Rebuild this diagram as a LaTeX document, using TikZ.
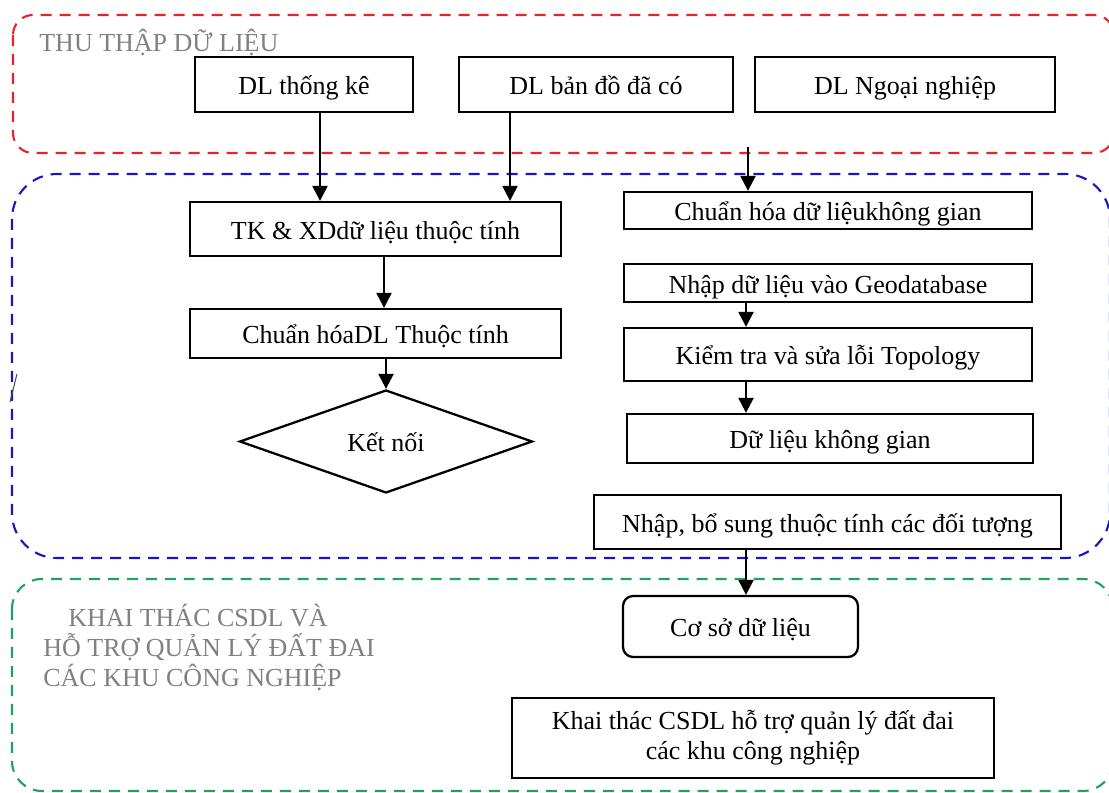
\documentclass[tikz,border=0pt]{standalone}
\usepackage{fontspec}
\setmainfont{Liberation Serif}
\usepackage{tikz}
\usetikzlibrary{arrows.meta}
\usetikzlibrary{shapes.geometric}

\definecolor{thured}{RGB}{232,34,44}
\definecolor{xlyblue}{RGB}{22,22,196}
\definecolor{ktgreen}{RGB}{30,162,98}
\definecolor{labelgray}{RGB}{128,128,128}

\begin{document}
\begin{tikzpicture}[x=0.02cm,y=-0.02cm]
		\useasboundingbox (0,0) rectangle (1109,793);

		% khung ba giai doan
		\begin{scope}[line width=1.2pt,dash pattern=on 2.2mm off 1.6mm]
			\draw[thured,rounded corners=0.4cm] (13,15) rectangle (1114,153);
			\draw[xlyblue,rounded corners=0.9cm] (12,174) rectangle (1110,558);
			\draw[ktgreen,rounded corners=0.6cm] (12,579) rectangle (1113,791);
		\end{scope}
		\draw[black!70,line width=0.6pt] (17,374) -- (10,402);

		\begin{scope}[every node/.style={text=labelgray,inner sep=0pt,font=\fontsize{14.8pt}{17pt}\selectfont}]
			\node[anchor=base west] (lb1) at (39,52) {THU THẬP DỮ LIỆU};
			\node[anchor=base west,align=left] (lb3) at (43,686) {\hspace*{0.5cm}KHAI THÁC CSDL VÀ\\HỖ TRỢ QUẢN LÝ ĐẤT ĐAI\\CÁC KHU CÔNG NGHIỆP};
		\end{scope}

		\begin{scope}[every node/.style={rectangle,draw,line width=1.3pt,inner sep=0pt,
		              text height=1.15em,text depth=0pt,font=\fontsize{14.8pt}{17pt}\selectfont}]
			\node[minimum width=4.36cm,minimum height=1.1cm] (dltk) at (304,84.5) {DL thống kê};
			\node[minimum width=5.48cm,minimum height=1.1cm] (dlbd) at (596,84.5) {DL bản đồ đã có};
			\node[minimum width=6cm,minimum height=1.1cm] (dlng) at (905,84.5) {DL Ngoại nghiệp};
			\node[minimum width=7.42cm,minimum height=1.08cm] (tk) at (375.5,229) {TK \& XDdữ liệu thuộc tính};
			\node[minimum width=7.42cm,minimum height=0.98cm] (chdl) at (375.5,333.5) {Chuẩn hóaDL Thuộc tính};
			\node[diamond,aspect=2.84,minimum width=5.86cm,minimum height=2.06cm] (ketnoi) at (386,441.5) {Kết nối};
			\node[minimum width=8.16cm,minimum height=0.74cm] (ckg) at (828,210.5) {Chuẩn hóa dữ liệukhông gian};
			\node[minimum width=8.16cm,minimum height=0.76cm] (ngdb) at (828,283) {Nhập dữ liệu vào Geodatabase};
			\node[minimum width=8.16cm,minimum height=1.06cm] (kt) at (828,354.5) {Kiểm tra và sửa lỗi Topology};
			\node[minimum width=8.12cm,minimum height=0.98cm] (dlkg) at (830,438.5) {Dữ liệu không gian};
			\node[minimum width=9.34cm,minimum height=1.08cm] (nbs) at (827.5,522) {Nhập, bổ sung thuộc tính các đối tượng};
			\node[rounded corners=0.2cm,minimum width=4.7cm,minimum height=1.22cm] (csdl) at (740.5,626.5) {Cơ sở dữ liệu};
		\end{scope}
		\node[draw,line width=1.3pt,inner sep=0pt,align=center,minimum width=9.64cm,minimum height=1.6cm,
		      font=\fontsize{14.8pt}{17pt}\selectfont] (kthac) at (753,738) {Khai thác CSDL hỗ trợ quản lý đất đai\\các khu công nghiệp};

		\coordinate (c1) at (320,0);
		\coordinate (c2) at (510,0);
		\coordinate (c3) at (384,0);
		\coordinate (c4) at (746,0);
		\coordinate (ng) at (748,147);

		\begin{scope}[>={Triangle[width=3mm,length=3mm]},
		              every edge/.style={draw=black,line width=1.3pt}]
			\path (dltk.south -| c1) edge[->] (tk.north -| c1);
			\path (dlbd.south -| c2) edge[->] (tk.north -| c2);
			\path (ng) edge[->] (ckg.north -| ng);
			\path (tk.south -| c3) edge[->] (chdl.north -| c3);
			\path (chdl.south -| ketnoi.north) edge[->] (ketnoi.north);
			\path (ngdb.south -| c4) edge[->] (kt.north -| c4);
			\path (kt.south -| c4) edge[->] (dlkg.north -| c4);
			\path (nbs.south -| c4) edge[->] (csdl.north -| c4);
		\end{scope}
\end{tikzpicture}
\end{document}
